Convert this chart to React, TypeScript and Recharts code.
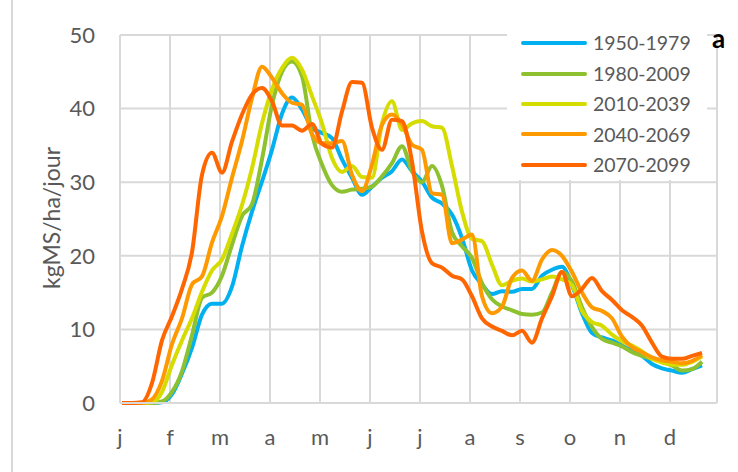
import { LineChart, Line, XAxis, YAxis, CartesianGrid } from 'recharts';

// one sample every 6 days, first at day 1.2
const monthTicks = [0, 30, 60, 90, 120, 150, 180, 210, 240, 270, 300, 330];
const monthLabels = ['j', 'f', 'm', 'a', 'm', 'j', 'j', 'a', 's', 'o', 'n', 'd'];
const yTicks = [0, 10, 20, 30, 40, 50];

const p1950 = [
  0, 0, 0, 0, 0.1, 1.2, 4.0, 7.5, 12.0, 13.5, 13.5, 15.8, 21.3, 26.0, 30.1,
  34.4, 39.3, 41.5, 39.9, 37.4, 36.7, 36.0, 33.1, 30.6, 28.3, 29.4, 30.6, 31.5, 33.1, 31.5,
  30.1, 27.9, 27.1, 25.6, 22.4, 18.0, 16.1, 14.8, 15.2, 15.1, 15.5, 15.5, 17.3, 18.1, 18.5,
  16.0, 12.2, 9.5, 8.9, 8.5, 7.8, 7.1, 6.4, 5.3, 4.7, 4.4, 4.1, 4.6, 5.1,
];
const p1980 = [
  0, 0, 0, 0, 0.2, 1.5, 4.3, 9.2, 14.3, 15.0, 17.3, 21.5, 25.4, 27.0, 33.1,
  40.5, 45.0, 46.4, 44.4, 36.5, 32.4, 29.6, 28.7, 29.0, 29.1, 29.4, 30.8, 32.6, 34.9, 31.5,
  30.0, 32.2, 29.5, 23.2, 21.3, 19.7, 16.3, 14.1, 13.1, 12.6, 12.1, 12.0, 12.3, 15.0, 17.8,
  16.5, 13.0, 10.3, 8.7, 8.2, 7.7, 6.9, 6.4, 6.0, 5.7, 5.1, 4.4, 4.6, 5.6,
];
const p2010 = [
  0, 0, 0, 0.1, 1.5, 5.2, 8.5, 11.5, 15.1, 18.0, 19.5, 23.0, 26.9, 31.9, 38.0,
  42.6, 45.5, 46.9, 45.3, 41.7, 38.0, 33.3, 31.4, 32.2, 30.7, 30.6, 38.0, 41.0, 37.1, 38.0,
  38.3, 37.6, 37.4, 32.2, 26.0, 22.3, 22.0, 18.8, 16.0, 16.6, 16.9, 16.5, 16.8, 17.2, 16.8,
  16.0, 12.5, 11.0, 10.5, 9.3, 8.4, 7.8, 7.0, 6.0, 5.5, 5.2, 5.2, 5.6, 6.3,
];
const p2040 = [
  0, 0, 0, 0.5, 3.0, 8.0, 11.5, 16.1, 17.2, 21.8, 25.4, 30.6, 35.6, 41.4, 45.7,
  44.2, 42.1, 40.8, 40.5, 36.5, 35.3, 35.3, 35.6, 31.0, 28.8, 32.4, 37.8, 39.2, 37.9, 35.1,
  34.4, 28.5, 28.3, 21.7, 22.2, 22.9, 14.5, 12.2, 13.1, 17.0, 18.0, 16.6, 19.5, 20.8, 20.0,
  17.8, 15.0, 13.0, 12.5, 11.5, 9.0, 7.6, 6.9, 6.2, 5.8, 5.6, 5.4, 5.7, 6.5,
];
const p2070 = [
  0, 0, 0.1, 2.7, 8.5, 11.8, 15.5, 20.5, 31.0, 34.0, 31.3, 35.5, 39.2, 41.9, 42.8,
  41.0, 37.7, 37.7, 37.0, 37.9, 35.2, 34.7, 39.6, 43.6, 43.5, 37.4, 34.4, 38.5, 38.3, 32.8,
  23.3, 19.0, 18.4, 17.3, 16.8, 14.5, 11.5, 10.4, 9.8, 9.2, 9.8, 8.2, 11.5, 14.5, 17.8,
  14.5, 15.5, 17.0, 15.2, 14.0, 12.6, 11.7, 10.5, 8.2, 6.3, 6.0, 6.0, 6.4, 6.8,
];

const series = [
  { key: 'p1950', name: '1950-1979', color: '#00B0F0', values: p1950 },
  { key: 'p1980', name: '1980-2009', color: '#8DC12F', values: p1980 },
  { key: 'p2010', name: '2010-2039', color: '#D6DC00', values: p2010 },
  { key: 'p2040', name: '2040-2069', color: '#FF9900', values: p2040 },
  { key: 'p2070', name: '2070-2099', color: '#FF6600', values: p2070 },
];

const data = p1950.map((_, i) => {
  const row: Record<string, number> = { day: 1.2 + 6 * i };
  series.forEach((s) => {
    row[s.key] = s.values[i];
  });
  return row;
});

const font = 'Lato, "Open Sans", sans-serif';
const grey = '#595959';

function LegendBox() {
  return (
    <div style={{ position: 'absolute', left: 507, top: 28, width: 200, background: '#fff' }}>
      {series.map((s) => (
        <div key={s.key} style={{ display: 'flex', alignItems: 'center', height: 30.4 }}>
          <div style={{ width: 66, height: 4, background: s.color, marginLeft: 14, borderRadius: 2 }} />
          <span style={{ marginLeft: 6, fontFamily: font, fontSize: 19.5, color: grey, lineHeight: 1 }}>{s.name}</span>
        </div>
      ))}
    </div>
  );
}

export default function App() {
  return (
    <div style={{ position: 'absolute', left: 0, top: 0, width: 738, height: 472, background: '#fff', overflow: 'hidden' }}>
      <div style={{ position: 'absolute', left: 11, top: 0, width: 2, height: 472, background: '#D9D9D9' }} />
      <LineChart width={738} height={472} data={data} margin={{ top: 35, right: 21, bottom: 29, left: 0 }}>
        <CartesianGrid stroke="#D9D9D9" strokeWidth={2} />
        <XAxis
          dataKey="day"
          type="number"
          domain={[0, 358.2]}
          ticks={monthTicks}
          tickFormatter={(v: number) => monthLabels[monthTicks.indexOf(v)]}
          tick={{ fill: grey, fontSize: 22, fontFamily: font }}
          tickLine={false}
          tickSize={0}
          tickMargin={26}
          axisLine={{ stroke: '#D9D9D9', strokeWidth: 2 }}
          height={40}
          interval={0}
        />
        <YAxis
          domain={[0, 50]}
          ticks={yTicks}
          tick={{ fill: grey, fontSize: 22, fontFamily: font }}
          tickLine={false}
          tickSize={0}
          tickMargin={25}
          axisLine={false}
          width={120}
        />
        {series.map((s) => (
          <Line
            key={s.key}
            dataKey={s.key}
            name={s.name}
            type="monotone"
            stroke={s.color}
            strokeWidth={4}
            dot={false}
            isAnimationActive={false}
          />
        ))}
      </LineChart>
      <LegendBox />
      <div
        style={{
          position: 'absolute',
          left: 51,
          top: 218,
          transform: 'translate(-50%, -50%) rotate(-90deg)',
          whiteSpace: 'nowrap',
          fontFamily: font,
          fontSize: 23,
          color: grey,
        }}
      >
        kgMS/ha/jour
      </div>
      <div style={{ position: 'absolute', left: 712, top: 22, fontFamily: font, fontSize: 26, fontWeight: 700, color: '#000' }}>a</div>
    </div>
  );
}
